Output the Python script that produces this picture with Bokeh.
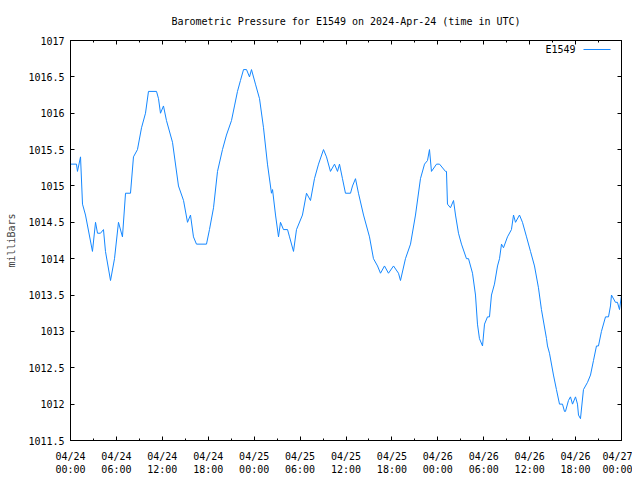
from bokeh.plotting import figure
from bokeh.models import Range1d, FixedTicker, LinearAxis, Label, BoxAnnotation
from bokeh.embed import file_html
from bokeh.resources import INLINE

# ---- data (hours since 2024-04-24 00:00 UTC, pressure in mb) ----
hours = [0.0, 0.78, 0.91, 1.31, 1.57, 1.96, 2.87, 3.27, 3.53, 3.92, 4.31, 4.57,
         5.23, 5.75, 6.27, 6.79, 7.19, 7.84, 8.23, 8.75, 9.28, 9.80, 10.19, 11.24,
         11.50, 11.76, 12.15, 12.54, 13.33, 14.11, 14.77, 15.29, 15.68, 16.07, 16.46,
         17.77, 18.16, 18.69, 19.21, 19.86, 20.38, 21.04, 21.43, 21.82, 22.21, 22.61,
         23.00, 23.39, 23.65, 24.17, 24.70, 25.22, 25.74, 26.26, 26.40, 26.79, 27.18,
         27.44, 27.83, 28.36, 28.62, 29.14, 29.53, 30.31, 30.84, 31.36, 31.88, 32.41,
         33.06, 33.45, 33.97, 34.50, 34.89, 35.15, 35.54, 35.93, 36.59, 36.85, 37.24,
         37.63, 38.29, 39.07, 39.59, 40.12, 40.51, 41.03, 41.55, 42.21, 42.86, 43.12,
         43.77, 44.43, 45.08, 45.73, 46.26, 46.65, 46.91, 47.17, 47.83, 48.22, 49.00,
         49.13, 49.26, 49.65, 50.05, 50.31, 50.70, 51.09, 51.74, 52.01, 52.53, 52.92,
         53.18, 53.44, 53.84, 54.10, 54.49, 54.75, 55.01, 55.40, 55.80, 56.06, 56.32,
         56.58, 57.10, 57.62, 57.89, 58.15, 58.67, 59.06, 59.59, 60.11, 60.63, 61.15,
         61.54, 62.20, 62.33, 62.59, 63.11, 63.50, 63.90, 64.29, 64.55, 64.68, 65.07,
         65.33, 65.60, 65.99, 66.25, 66.38, 66.64, 67.03, 67.56, 67.95, 68.34, 68.73,
         68.99, 69.38, 69.91, 70.30, 70.56, 70.69, 71.21, 71.47, 71.74, 72.0]
pressure = [1015.3, 1015.3, 1015.2, 1015.4, 1014.75, 1014.6, 1014.1, 1014.5, 1014.35, 1014.35, 1014.4, 1014.1,
            1013.7, 1014.0, 1014.5, 1014.3, 1014.9, 1014.9, 1015.4, 1015.5, 1015.8, 1016.0, 1016.3, 1016.3,
            1016.2, 1016.0, 1016.1, 1015.9, 1015.6, 1015.0, 1014.8, 1014.5, 1014.6, 1014.3, 1014.2,
            1014.2, 1014.4, 1014.7, 1015.2, 1015.5, 1015.7, 1015.9, 1016.1, 1016.3, 1016.45, 1016.6,
            1016.6, 1016.5, 1016.6, 1016.4, 1016.2, 1015.8, 1015.3, 1014.9, 1014.95, 1014.6, 1014.3,
            1014.5, 1014.4, 1014.4, 1014.3, 1014.1, 1014.4, 1014.6, 1014.9, 1014.8, 1015.1, 1015.3,
            1015.5, 1015.4, 1015.2, 1015.3, 1015.2, 1015.3, 1015.1, 1014.9, 1014.9, 1015.0, 1015.1,
            1014.9, 1014.6, 1014.3, 1014.0, 1013.9, 1013.8, 1013.9, 1013.8, 1013.9, 1013.8, 1013.7,
            1014.0, 1014.2, 1014.6, 1015.1, 1015.3, 1015.35, 1015.5, 1015.2, 1015.3, 1015.3, 1015.2,
            1015.2, 1014.75, 1014.7, 1014.8, 1014.6, 1014.35, 1014.2, 1014.0, 1014.0, 1013.8, 1013.5,
            1013.1, 1012.9, 1012.8, 1013.1, 1013.2, 1013.2, 1013.5, 1013.65, 1013.9, 1014.0, 1014.2,
            1014.15, 1014.3, 1014.4, 1014.6, 1014.5, 1014.6, 1014.5, 1014.3, 1014.1, 1013.9, 1013.6,
            1013.3, 1012.9, 1012.8, 1012.7, 1012.4, 1012.2, 1012.0, 1012.0, 1011.9, 1011.9, 1012.05,
            1012.1, 1012.0, 1012.1, 1012.0, 1011.85, 1011.8, 1012.2, 1012.3, 1012.4, 1012.6, 1012.8,
            1012.8, 1013.0, 1013.2, 1013.2, 1013.35, 1013.5, 1013.4, 1013.4, 1013.3, 1013.5, 1013.5]

x_ticks = [0, 6, 12, 18, 24, 30, 36, 42, 48, 54, 60, 66, 72]
x_minor_ticks = [3, 9, 15, 21, 27, 33, 39, 45, 51, 57, 63, 69]
x_tick_labels = ["04/24\n00:00", "04/24\n06:00", "04/24\n12:00", "04/24\n18:00",
                 "04/25\n00:00", "04/25\n06:00", "04/25\n12:00", "04/25\n18:00",
                 "04/26\n00:00", "04/26\n06:00", "04/26\n12:00", "04/26\n18:00",
                 "04/27\n00:00"]
y_ticks = [1011.5, 1012, 1012.5, 1013, 1013.5, 1014, 1014.5, 1015, 1015.5, 1016, 1016.5, 1017]
y_tick_labels = ["1011.5", "1012", "1012.5", "1013", "1013.5", "1014", "1014.5", "1015",
                 "1015.5", "1016", "1016.5", "1017"]
series_name = "E1549"
title_text = "Barometric Pressure for E1549 on 2024-Apr-24 (time in UTC)"

FONT = "DejaVu Sans Mono"
FS = "10px"
BLUE = "#1487ff"

p = figure(width=632, height=478, output_backend="svg", toolbar_location=None,
           x_range=Range1d(0, 72), y_range=Range1d(1011.5, 1017),
           min_border_left=70, min_border_right=11, min_border_top=40, min_border_bottom=38,
           title=title_text)
p.title.text_font = FONT
p.title.text_font_size = FS
p.title.text_font_style = "normal"
p.title.align = "center"
p.title.text_color = "black"
p.title.standoff = 27

p.grid.visible = False
p.outline_line_color = "black"
p.outline_line_width = 1
p.background_fill_color = "white"
p.border_fill_color = "white"

p.line(hours, pressure, line_color=BLUE, line_width=1)

def style(ax):
    ax.axis_line_color = "black"
    ax.major_tick_line_color = "black"
    ax.minor_tick_line_color = "black"
    ax.major_tick_in = 4
    ax.major_tick_out = 0
    ax.minor_tick_in = 2
    ax.minor_tick_out = 0
    ax.major_label_text_font = FONT
    ax.major_label_text_font_size = FS
    ax.major_label_text_color = "black"

xa = p.xaxis[0]
xa.ticker = FixedTicker(ticks=x_ticks, minor_ticks=x_minor_ticks)
xa.major_label_overrides = {t: l for t, l in zip(x_ticks, x_tick_labels)}
xa.major_label_standoff = 10
style(xa)

ya = p.yaxis[0]
ya.ticker = FixedTicker(ticks=y_ticks, minor_ticks=[])
ya.major_label_overrides = {t: l for t, l in zip(y_ticks, y_tick_labels)}
ya.major_label_standoff = 6
ya.axis_label = "milliBars"
ya.axis_label_text_font = FONT
ya.axis_label_text_font_size = FS
ya.axis_label_text_font_style = "normal"
ya.axis_label_standoff = 8
style(ya)

# mirrored tick marks on the right and top (no labels)
ra = LinearAxis(ticker=FixedTicker(ticks=y_ticks, minor_ticks=[]))
style(ra)
ra.major_label_overrides = {t: "" for t in y_ticks}
ra.major_label_text_color = None
ra.major_label_standoff = 0
p.add_layout(ra, "right")
ta = LinearAxis(ticker=FixedTicker(ticks=x_ticks, minor_ticks=x_minor_ticks))
style(ta)
ta.major_label_overrides = {t: "" for t in x_ticks}
ta.major_label_text_color = None
ta.major_label_standoff = 0
p.add_layout(ta, "above")

# legend (gnuplot style: text then sample line), in screen units of the frame
p.add_layout(Label(x=505, y=391, x_units="screen", y_units="screen", text=series_name,
                   text_font=FONT, text_font_size=FS, text_align="right",
                   text_baseline="middle", text_color="black"))
p.add_layout(BoxAnnotation(left=513, right=540, bottom=390.5, top=391.5,
                           left_units="screen", right_units="screen",
                           bottom_units="screen", top_units="screen",
                           fill_color=BLUE, fill_alpha=1, line_color=None))

open("out.html", "w").write(file_html(p, INLINE))
